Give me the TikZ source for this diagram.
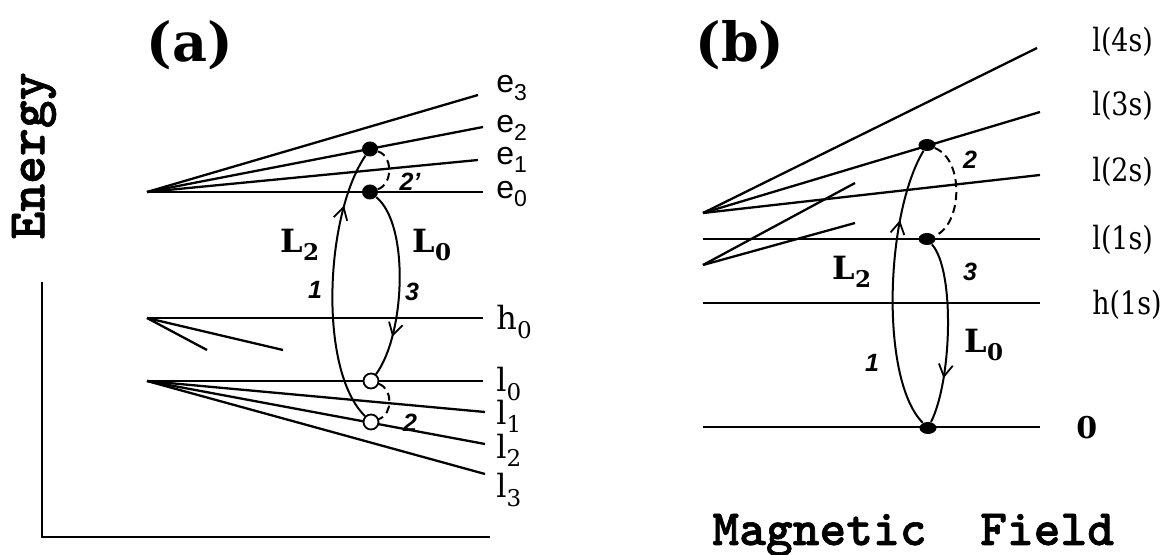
\documentclass[tikz,border=0pt]{standalone}
\usepackage{fontspec}
\setmainfont{DejaVu Serif}
\setsansfont{Liberation Sans}
\newfontfamily\axfont{lmmonolt10-bold.otf}[FakeBold=1.2]
\usepackage{tikz}
\usetikzlibrary{arrows.meta,calc,positioning,decorations.markings,shapes.geometric}
\newcommand\lsub[1]{\raisebox{-0.5ex}{\scalebox{0.72}{#1}}}
\newcommand\narrow[1]{\scalebox{0.84}[1]{#1}}

\begin{document}
\begin{tikzpicture}[x=0.5pt, y=-0.5pt,
		level/.style={line width=1.15pt},
		trans/.style={line width=1pt},
		hop/.style={line width=1pt, dash pattern=on 4pt off 2.5pt},
		full/.style={ellipse, fill=black, minimum width=8pt, minimum height=7.5pt, inner sep=0pt},
		flat/.style={ellipse, fill=black, minimum width=8.5pt, minimum height=6pt, inner sep=0pt},
		hollow/.style={circle, draw, line width=0.9pt, fill=white, minimum size=7.5pt, inner sep=0pt},
		elev/.style={anchor=west, inner sep=0pt, font=\sffamily\fontsize{16}{18}\selectfont},
		llev/.style={anchor=west, inner sep=0pt, font=\fontsize{16}{18}\selectfont},
		num/.style={inner sep=0pt, font=\sffamily\bfseries\itshape\fontsize{12.5}{14}\selectfont},
		lab/.style={inner sep=0pt, font=\bfseries\fontsize{16}{18}\selectfont},
		panel/.style={inner sep=0pt, font=\bfseries\fontsize{27}{30}\selectfont},
		axis/.style={inner sep=0pt, font=\axfont\fontsize{#1}{#1}\selectfont},
		midarrow/.style={postaction={decorate, decoration={markings,
			mark=at position #1 with {\arrow{Straight Barb[length=6pt,width=7pt,line width=0.9pt]}}}}}]
	\useasboundingbox (0,0) rectangle (1162,555);

	\coordinate (origin) at (42,537);
	\coordinate (ytop) at (42,282);
	\coordinate (xend) at (490,537);
	\draw[line width=1.4pt] (ytop) -- (origin) -- (xend);
	\node[axis=26.5, rotate=90] (energy) at (34,156) {Energy};
	\node[axis=25.5, anchor=base west] (field) at (712,545) {Magnetic\ \ Field};

	\node[panel] (pa) at (190,45) {(a)};
	\node[panel] (pb) at (740,45) {(b)};

	\coordinate (ea) at (147,192);
	\coordinate (ha) at (147,318);
	\coordinate (la) at (147,381);
	\draw[level] (ea) -- (478,95);
	\draw[level] (ea) -- (483,127);
	\draw[level] (ea) -- (478,160);
	\draw[level] (ea) -- (483,192);
	\draw[level] (ha) -- (483,318);
	\draw[level] (ha) -- (207,350);
	\draw[level] (ha) -- (283,350);
	\draw[level] (la) -- (483,381);
	\draw[level] (la) -- (485,412);
	\draw[level] (la) -- (485,444);
	\draw[level] (la) -- (485,474);

	\node[elev] (e3) at (496,88) {e\lsub{3}};
	\node[elev] (e2) at (496,128) {e\lsub{2}};
	\node[elev] (e1) at (496,160) {e\lsub{1}};
	\node[elev] (e0) at (496,194) {e\lsub{0}};
	\node[llev] (h0) at (496,322) {h\lsub{0}};
	\node[llev] (l0) at (496,384) {l\lsub{0}};
	\node[llev] (l1) at (496,416) {l\lsub{1}};
	\node[llev] (l2) at (496,450) {l\lsub{2}};
	\node[llev] (l3) at (496,490) {l\lsub{3}};

	\node[full] (eup) at (370,149) {};
	\node[full] (edn) at (370,192) {};
	\node[hollow] (lup) at (371,381) {};
	\node[hollow] (ldn) at (371,422) {};

	\draw[hop] (eup) .. controls (393,156) and (393,184) .. (edn);
	\draw[hop] (lup) .. controls (393,389) and (393,414) .. (ldn);
	\draw[trans, midarrow=0.8] (ldn) .. controls (318,370) and (325,215) .. (eup);
	\draw[trans, midarrow=0.78] (edn) .. controls (410,225) and (405,335) .. (lup);

	\node[lab] (la2) at (300,245) {L\lsub{2}};
	\node[lab] (la0) at (432,245) {L\lsub{0}};
	\node[num] (na1) at (315,290) {1};
	\node[num] (na3) at (412,292) {3};
	\node[num] (na2p) at (410,182) {2'};
	\node[num] (na2) at (410,423) {2};

	\coordinate (lb) at (703,213);
	\coordinate (hb) at (703,265);
	\draw[level] (lb) -- (1037,48);
	\draw[level] (lb) -- (1040,112);
	\draw[level] (lb) -- (1040,175);
	\draw[level] (hb) -- (855,183);
	\draw[level] (hb) -- (855,223);
	\draw[level] (703,239) -- (1040,239);
	\draw[level] (703,303) -- (1040,303);
	\draw[level] (703,427) -- (1040,427);

	\node[llev] (s4) at (1092,42) {\narrow{l(4s)}};
	\node[llev] (s3) at (1092,106) {\narrow{l(3s)}};
	\node[llev] (s2) at (1092,172) {\narrow{l(2s)}};
	\node[llev] (s1) at (1092,240) {\narrow{l(1s)}};
	\node[llev] (h1) at (1092,305) {\narrow{h(1s)}};
	\node[llev, font=\bfseries\fontsize{15}{18}\selectfont] (zero) at (1076,428) {0};

	\node[flat] (bup) at (927,145) {};
	\node[flat] (bmid) at (927,239) {};
	\node[flat] (bdn) at (928,428) {};

	\draw[hop] (bup) .. controls (965,160) and (962,225) .. (bmid);
	\draw[trans, midarrow=0.74] (bdn) .. controls (880,380) and (885,215) .. (bup);
	\draw[trans, midarrow=0.75] (bmid) .. controls (955,270) and (952,380) .. (bdn);

	\node[lab] (lb2) at (852,272) {L\lsub{2}};
	\node[lab] (lb0) at (984,345) {L\lsub{0}};
	\node[num] (nb1) at (872,363) {1};
	\node[num] (nb3) at (970,272) {3};
	\node[num] (nb2) at (970,160) {2};
\end{tikzpicture}
\end{document}
